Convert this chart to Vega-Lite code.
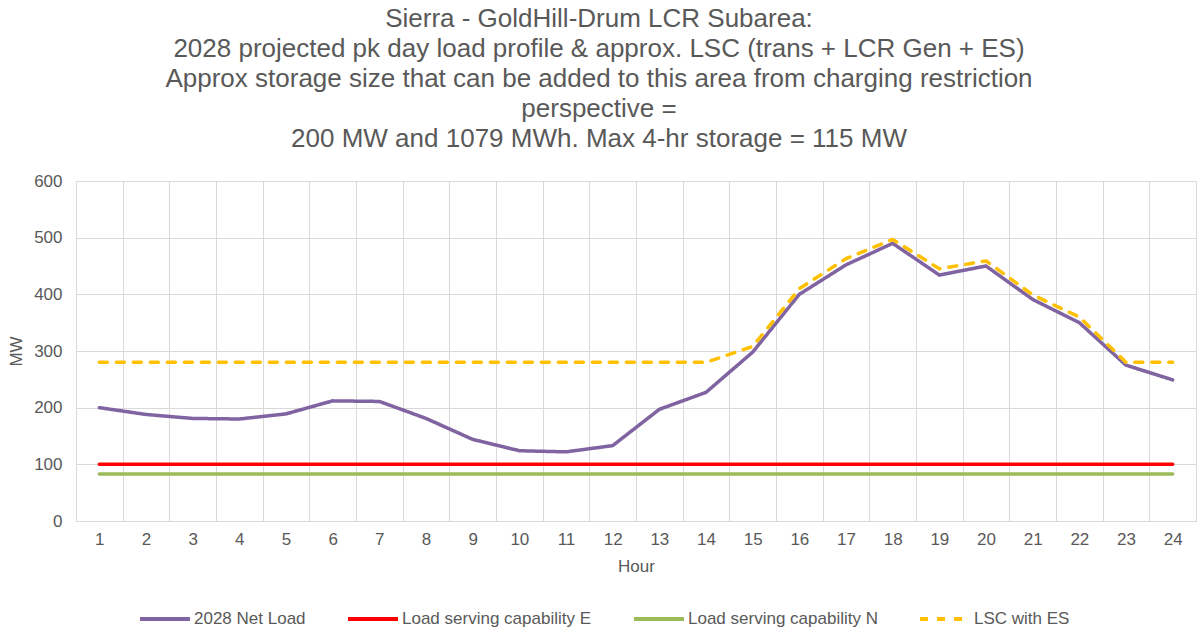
{
  "$schema": "https://vega.github.io/schema/vega-lite/v6.json",
  "autosize": {"type": "none"},
  "padding": {"left": 76, "top": 181, "right": 2, "bottom": 110},
  "width": 1120,
  "height": 340,
  "background": "white",
  "config": {
    "font": "Liberation Sans",
    "view": {"stroke": null}
  },
  "title": {
    "text": [
      "Sierra - GoldHill-Drum LCR Subarea:",
      "2028 projected pk day load profile & approx. LSC (trans + LCR Gen + ES)",
      "Approx storage size that can be added to this area from charging restriction",
      "perspective =",
      "200 MW and 1079 MWh. Max 4-hr storage = 115 MW"
    ],
    "fontSize": 26,
    "lineHeight": 30,
    "font": "Liberation Sans",
    "fontWeight": "normal",
    "color": "#595959",
    "anchor": "middle",
    "dx": -37,
    "offset": 20
  },
  "data": {
    "values": [
      {"hour": 1, "series": "2028 Net Load", "mw": 200},
      {"hour": 2, "series": "2028 Net Load", "mw": 188},
      {"hour": 3, "series": "2028 Net Load", "mw": 181},
      {"hour": 4, "series": "2028 Net Load", "mw": 180},
      {"hour": 5, "series": "2028 Net Load", "mw": 189},
      {"hour": 6, "series": "2028 Net Load", "mw": 212},
      {"hour": 7, "series": "2028 Net Load", "mw": 211},
      {"hour": 8, "series": "2028 Net Load", "mw": 181},
      {"hour": 9, "series": "2028 Net Load", "mw": 144},
      {"hour": 10, "series": "2028 Net Load", "mw": 124},
      {"hour": 11, "series": "2028 Net Load", "mw": 122},
      {"hour": 12, "series": "2028 Net Load", "mw": 133},
      {"hour": 13, "series": "2028 Net Load", "mw": 197},
      {"hour": 14, "series": "2028 Net Load", "mw": 227},
      {"hour": 15, "series": "2028 Net Load", "mw": 298},
      {"hour": 16, "series": "2028 Net Load", "mw": 400},
      {"hour": 17, "series": "2028 Net Load", "mw": 452},
      {"hour": 18, "series": "2028 Net Load", "mw": 490},
      {"hour": 19, "series": "2028 Net Load", "mw": 434},
      {"hour": 20, "series": "2028 Net Load", "mw": 450},
      {"hour": 21, "series": "2028 Net Load", "mw": 391},
      {"hour": 22, "series": "2028 Net Load", "mw": 350},
      {"hour": 23, "series": "2028 Net Load", "mw": 275},
      {"hour": 24, "series": "2028 Net Load", "mw": 249},
      {"hour": 1, "series": "Load serving capability E", "mw": 100},
      {"hour": 2, "series": "Load serving capability E", "mw": 100},
      {"hour": 3, "series": "Load serving capability E", "mw": 100},
      {"hour": 4, "series": "Load serving capability E", "mw": 100},
      {"hour": 5, "series": "Load serving capability E", "mw": 100},
      {"hour": 6, "series": "Load serving capability E", "mw": 100},
      {"hour": 7, "series": "Load serving capability E", "mw": 100},
      {"hour": 8, "series": "Load serving capability E", "mw": 100},
      {"hour": 9, "series": "Load serving capability E", "mw": 100},
      {"hour": 10, "series": "Load serving capability E", "mw": 100},
      {"hour": 11, "series": "Load serving capability E", "mw": 100},
      {"hour": 12, "series": "Load serving capability E", "mw": 100},
      {"hour": 13, "series": "Load serving capability E", "mw": 100},
      {"hour": 14, "series": "Load serving capability E", "mw": 100},
      {"hour": 15, "series": "Load serving capability E", "mw": 100},
      {"hour": 16, "series": "Load serving capability E", "mw": 100},
      {"hour": 17, "series": "Load serving capability E", "mw": 100},
      {"hour": 18, "series": "Load serving capability E", "mw": 100},
      {"hour": 19, "series": "Load serving capability E", "mw": 100},
      {"hour": 20, "series": "Load serving capability E", "mw": 100},
      {"hour": 21, "series": "Load serving capability E", "mw": 100},
      {"hour": 22, "series": "Load serving capability E", "mw": 100},
      {"hour": 23, "series": "Load serving capability E", "mw": 100},
      {"hour": 24, "series": "Load serving capability E", "mw": 100},
      {"hour": 1, "series": "Load serving capability N", "mw": 83},
      {"hour": 2, "series": "Load serving capability N", "mw": 83},
      {"hour": 3, "series": "Load serving capability N", "mw": 83},
      {"hour": 4, "series": "Load serving capability N", "mw": 83},
      {"hour": 5, "series": "Load serving capability N", "mw": 83},
      {"hour": 6, "series": "Load serving capability N", "mw": 83},
      {"hour": 7, "series": "Load serving capability N", "mw": 83},
      {"hour": 8, "series": "Load serving capability N", "mw": 83},
      {"hour": 9, "series": "Load serving capability N", "mw": 83},
      {"hour": 10, "series": "Load serving capability N", "mw": 83},
      {"hour": 11, "series": "Load serving capability N", "mw": 83},
      {"hour": 12, "series": "Load serving capability N", "mw": 83},
      {"hour": 13, "series": "Load serving capability N", "mw": 83},
      {"hour": 14, "series": "Load serving capability N", "mw": 83},
      {"hour": 15, "series": "Load serving capability N", "mw": 83},
      {"hour": 16, "series": "Load serving capability N", "mw": 83},
      {"hour": 17, "series": "Load serving capability N", "mw": 83},
      {"hour": 18, "series": "Load serving capability N", "mw": 83},
      {"hour": 19, "series": "Load serving capability N", "mw": 83},
      {"hour": 20, "series": "Load serving capability N", "mw": 83},
      {"hour": 21, "series": "Load serving capability N", "mw": 83},
      {"hour": 22, "series": "Load serving capability N", "mw": 83},
      {"hour": 23, "series": "Load serving capability N", "mw": 83},
      {"hour": 24, "series": "Load serving capability N", "mw": 83},
      {"hour": 1, "series": "LSC with ES", "mw": 280},
      {"hour": 2, "series": "LSC with ES", "mw": 280},
      {"hour": 3, "series": "LSC with ES", "mw": 280},
      {"hour": 4, "series": "LSC with ES", "mw": 280},
      {"hour": 5, "series": "LSC with ES", "mw": 280},
      {"hour": 6, "series": "LSC with ES", "mw": 280},
      {"hour": 7, "series": "LSC with ES", "mw": 280},
      {"hour": 8, "series": "LSC with ES", "mw": 280},
      {"hour": 9, "series": "LSC with ES", "mw": 280},
      {"hour": 10, "series": "LSC with ES", "mw": 280},
      {"hour": 11, "series": "LSC with ES", "mw": 280},
      {"hour": 12, "series": "LSC with ES", "mw": 280},
      {"hour": 13, "series": "LSC with ES", "mw": 280},
      {"hour": 14, "series": "LSC with ES", "mw": 280},
      {"hour": 15, "series": "LSC with ES", "mw": 308},
      {"hour": 16, "series": "LSC with ES", "mw": 410},
      {"hour": 17, "series": "LSC with ES", "mw": 463},
      {"hour": 18, "series": "LSC with ES", "mw": 497},
      {"hour": 19, "series": "LSC with ES", "mw": 445},
      {"hour": 20, "series": "LSC with ES", "mw": 459},
      {"hour": 21, "series": "LSC with ES", "mw": 399},
      {"hour": 22, "series": "LSC with ES", "mw": 360},
      {"hour": 23, "series": "LSC with ES", "mw": 280},
      {"hour": 24, "series": "LSC with ES", "mw": 280}
    ]
  },
  "mark": {"type": "line", "strokeWidth": 3.5, "strokeCap": "round", "strokeJoin": "round"},
  "encoding": {
    "x": {
      "field": "hour",
      "type": "ordinal",
      "bandPosition": 0.5,
      "scale": {"type": "band", "paddingInner": 0, "paddingOuter": 0},
      "axis": {
        "title": "Hour",
        "labelAngle": 0,
        "tickBand": "extent",
        "grid": true,
        "gridColor": "#d9d9d9",
        "gridWidth": 1,
        "domain": true,
        "domainColor": "#d9d9d9",
        "domainWidth": 1,
        "ticks": false,
        "labelPadding": 10,
        "labelFontSize": 17,
        "labelColor": "#595959",
        "labelFont": "Liberation Sans",
        "titleFontSize": 17,
        "titleFontWeight": "normal",
        "titleColor": "#595959",
        "titleFont": "Liberation Sans",
        "titlePadding": 11
      }
    },
    "y": {
      "field": "mw",
      "type": "quantitative",
      "scale": {"domain": [0, 600], "nice": false, "zero": true},
      "axis": {
        "title": "MW",
        "values": [0, 100, 200, 300, 400, 500, 600],
        "grid": true,
        "gridColor": "#d9d9d9",
        "gridWidth": 1,
        "domain": false,
        "ticks": false,
        "labelPadding": 14,
        "labelFontSize": 17,
        "labelColor": "#595959",
        "labelFont": "Liberation Sans",
        "titleFontSize": 17,
        "titleFontWeight": "normal",
        "titleColor": "#595959",
        "titleFont": "Liberation Sans",
        "titlePadding": 8
      }
    },
    "color": {
      "field": "series",
      "type": "nominal",
      "scale": {
        "domain": ["2028 Net Load", "Load serving capability E", "Load serving capability N", "LSC with ES"],
        "range": ["#8064A2", "#FF0000", "#9BBB59", "#FFC000"]
      },
      "legend": {
        "title": null,
        "orient": "none",
        "direction": "horizontal",
        "legendX": 62,
        "legendY": 411,
        "symbolType": "stroke",
        "symbolSize": 2500,
        "symbolStrokeWidth": 4,
        "labelFontSize": 17,
        "labelColor": "#595959",
        "labelFont": "Liberation Sans",
        "labelOffset": 2,
        "columnPadding": 34,
        "labelLimit": 400
      }
    },
    "strokeDash": {
      "field": "series",
      "type": "nominal",
      "scale": {
        "domain": ["2028 Net Load", "Load serving capability E", "Load serving capability N", "LSC with ES"],
        "range": [[1, 0], [1, 0], [1, 0], [8, 9]]
      },
      "legend": {
        "title": null,
        "orient": "none",
        "direction": "horizontal",
        "legendX": 62,
        "legendY": 411,
        "symbolType": "stroke",
        "symbolSize": 2500,
        "symbolStrokeWidth": 4,
        "labelFontSize": 17,
        "labelColor": "#595959",
        "labelFont": "Liberation Sans",
        "labelOffset": 2,
        "columnPadding": 34,
        "labelLimit": 400
      }
    }
  }
}
